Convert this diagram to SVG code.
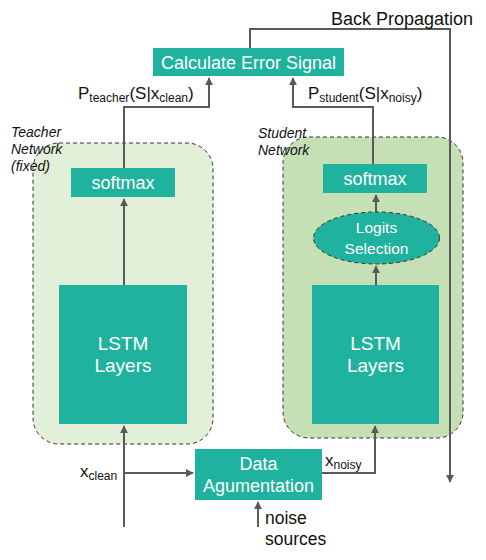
<svg xmlns="http://www.w3.org/2000/svg" width="486" height="560" viewBox="0 0 486 560">
<style>
.box{fill:#1fb29e}
.wt{fill:#fff;font-family:"Liberation Sans",Arial,sans-serif;text-anchor:middle}
.bt{fill:#111;font-family:"Liberation Sans",Arial,sans-serif}
.it{fill:#111;font-family:"Liberation Sans",Arial,sans-serif;font-style:italic;font-size:14px}
.ln{fill:none;stroke:#595959;stroke-width:2}
.cont{stroke:#333;stroke-width:1;stroke-dasharray:4,3}
</style>
<defs>
<marker id="ah" viewBox="0 0 10 10" refX="9" refY="5" markerWidth="4" markerHeight="4" orient="auto">
<path d="M0,0 L10,5 L0,10 z" fill="#595959"/>
</marker>
</defs>
<g id="teacher-container">
<rect x="33" y="143" width="180" height="301" rx="26" fill="#e2efd9" class="cont"/>
<text class="it" x="11" y="137">Teacher</text>
<text class="it" x="11" y="154">Network</text>
<text class="it" x="11" y="171">(fixed)</text>
</g>
<g id="student-container">
<rect x="283" y="137" width="180" height="301" rx="26" fill="#c5e0b4" class="cont"/>
<text class="it" x="258" y="138">Student</text>
<text class="it" x="258" y="155">Network</text>
</g>
<g id="connectors">
<polyline class="ln" points="250,48 250,29 450,29 450,482" marker-end="url(#ah)"/>
<polyline class="ln" points="124,168 124,107 209,107 209,78" marker-end="url(#ah)"/>
<polyline class="ln" points="373,164 373,107 293,107 293,78" marker-end="url(#ah)"/>
<line class="ln" x1="124" y1="285" x2="124" y2="199" marker-end="url(#ah)"/>
<line class="ln" x1="124" y1="527" x2="124" y2="426" marker-end="url(#ah)"/>
<line class="ln" x1="124" y1="473" x2="193" y2="473" marker-end="url(#ah)"/>
<polyline class="ln" points="322,473 375,473 375,426" marker-end="url(#ah)"/>
<line class="ln" x1="376" y1="285" x2="376" y2="266" marker-end="url(#ah)"/>
<line class="ln" x1="376" y1="212" x2="376" y2="195" marker-end="url(#ah)"/>
<line class="ln" x1="258" y1="527" x2="258" y2="502" marker-end="url(#ah)"/>
</g>
<g id="calc-error">
<rect class="box" x="153" y="48" width="191" height="28"/>
<text class="wt" x="248.5" y="69" font-size="18">Calculate Error Signal</text>
</g>
<g id="back-prop-label">
<text class="bt" x="331" y="25" font-size="18">Back Propagation</text>
</g>
<g id="p-teacher-label">
<text class="bt" x="78" y="99" font-size="17">P<tspan font-size="12" dy="3">teacher</tspan><tspan dy="-3">(S|x</tspan><tspan font-size="12" dy="3">clean</tspan><tspan dy="-3">)</tspan></text>
</g>
<g id="p-student-label">
<text class="bt" x="308" y="99" font-size="17">P<tspan font-size="12" dy="3">student</tspan><tspan dy="-3">(S|x</tspan><tspan font-size="12" dy="3">noisy</tspan><tspan dy="-3">)</tspan></text>
</g>
<g id="teacher-softmax">
<rect class="box" x="71" y="168" width="104" height="29"/>
<text class="wt" x="123" y="189" font-size="18">softmax</text>
</g>
<g id="teacher-lstm">
<rect class="box" x="59" y="285" width="128" height="139"/>
<text class="wt" x="123" y="350" font-size="19">LSTM</text>
<text class="wt" x="123" y="372" font-size="19">Layers</text>
</g>
<g id="student-softmax">
<rect class="box" x="323" y="164" width="104" height="29"/>
<text class="wt" x="375" y="185" font-size="18">softmax</text>
</g>
<g id="logits-selection">
<ellipse class="box" cx="376.5" cy="238" rx="63" ry="26" stroke="#333" stroke-width="1" stroke-dasharray="4,3"/>
<text class="wt" x="376.5" y="233" font-size="15.5">Logits</text>
<text class="wt" x="376.5" y="254" font-size="15.5">Selection</text>
</g>
<g id="student-lstm">
<rect class="box" x="312" y="285" width="127" height="139"/>
<text class="wt" x="375.5" y="350" font-size="19">LSTM</text>
<text class="wt" x="375.5" y="372" font-size="19">Layers</text>
</g>
<g id="data-augmentation">
<rect class="box" x="195" y="449" width="127" height="51"/>
<text class="wt" x="258.5" y="470" font-size="18">Data</text>
<text class="wt" x="258.5" y="492" font-size="18">Agumentation</text>
</g>
<g id="x-clean-label">
<text class="bt" x="80" y="477" font-size="17">x<tspan font-size="12" dy="3">clean</tspan></text>
</g>
<g id="x-noisy-label">
<text class="bt" x="325" y="466" font-size="17">x<tspan font-size="12" dy="3">noisy</tspan></text>
</g>
<g id="noise-label">
<text class="bt" x="265" y="524" font-size="17.5">noise</text>
<text class="bt" x="265" y="545" font-size="17.5">sources</text>
</g>
</svg>
